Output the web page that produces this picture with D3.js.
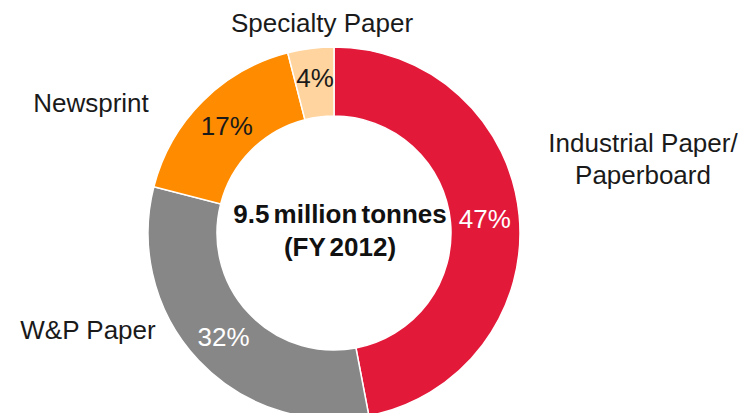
<!DOCTYPE html>
<html>
<head>
<meta charset="utf-8">
<script src="https://cdn.jsdelivr.net/npm/d3@7"></script>
<style>
  html, body { margin: 0; padding: 0; background: #fff; }
  svg { display: block; font-family: "Liberation Sans", Arial, sans-serif; }
</style>
</head>
<body>
<svg id="chart" width="743" height="413"></svg>
<script>
// Paper production mix, FY 2012 (share of total, %)
const categories = ["Industrial Paper/\nPaperboard", "W&P Paper", "Newsprint", "Specialty Paper"];
const shares = [47, 32, 17, 4];
const colors = ["#E3193A", "#878787", "#FF8C00", "#FFD49E"];
const labelColors = ["#ffffff", "#ffffff", "#1a1a1a", "#1a1a1a"];
const centerLines = ["9.5 million tonnes", "(FY 2012)"];

// where each category name sits (centre of its first line)
const namePos = [
  { x: 643, y: 143 },
  { x: 88, y: 330 },
  { x: 91, y: 103 },
  { x: 322, y: 23 }
];

const svg = d3.select("#chart");
const cx = 334, cy = 233, outerR = 186, innerR = 117;

const pie = d3.pie().sort(null).value(d => d.value);
const arc = d3.arc().innerRadius(innerR).outerRadius(outerR);
const labelArc = d3.arc().innerRadius((innerR + outerR) / 2).outerRadius((innerR + outerR) / 2);

const data = categories.map((c, i) => ({ name: c, value: shares[i], i }));
const arcs = pie(data);

const g = svg.append("g").attr("transform", `translate(${cx},${cy})`);

g.selectAll("path.slice")
  .data(arcs)
  .join("path")
  .attr("class", "slice")
  .attr("d", arc)
  .attr("fill", d => colors[d.data.i])
  .attr("stroke", "#ffffff")
  .attr("stroke-width", 1.5);

// the thin last slice keeps its label a little higher, clear of the ring's inner edge
g.selectAll("text.pct")
  .data(arcs)
  .join("text")
  .attr("class", "pct")
  .attr("transform", d => {
    const [x, y] = labelArc.centroid(d);
    return `translate(${x},${y - (d.data.value < 10 ? 5 : 0)})`;
  })
  .attr("text-anchor", "middle")
  .attr("dy", "0.35em")
  .attr("font-size", 26)
  .attr("fill", d => labelColors[d.data.i])
  .text(d => d.data.value + "%");

// centre caption
g.selectAll("text.center")
  .data(centerLines)
  .join("text")
  .attr("class", "center")
  .attr("x", 6)
  .attr("y", (d, i) => -19 + i * 33)
  .attr("dy", "0.35em")
  .attr("text-anchor", "middle")
  .attr("font-size", 26)
  .attr("font-weight", "bold")
  .attr("word-spacing", "-3")
  .attr("fill", "#111")
  .text(d => d);

// category names
const names = svg.selectAll("text.name")
  .data(data)
  .join("text")
  .attr("class", "name")
  .attr("x", d => namePos[d.i].x)
  .attr("y", d => namePos[d.i].y)
  .attr("text-anchor", "middle")
  .attr("font-size", 26)
  .attr("fill", "#1a1a1a");

names.each(function (d) {
  const lines = d.name.split("\n");
  d3.select(this).selectAll("tspan")
    .data(lines)
    .join("tspan")
    .attr("x", namePos[d.i].x)
    .attr("dy", (l, j) => (j === 0 ? "0.35em" : "32px"))
    .text(l => l);
});
</script>
</body>
</html>
